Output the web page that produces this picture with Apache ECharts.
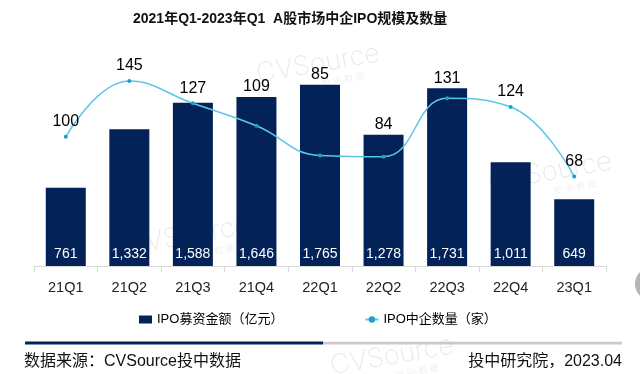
<!DOCTYPE html>
<html>
<head>
<meta charset="utf-8">
<script src="https://cdn.jsdelivr.net/npm/echarts@6/dist/echarts.min.js"></script>
<style>
html,body{margin:0;padding:0;background:#fff;}
#chart{width:640px;height:374px;}
</style>
</head>
<body>
<div id="chart"></div>
<script>
const categories = ['21Q1','21Q2','21Q3','21Q4','22Q1','22Q2','22Q3','22Q4','23Q1'];
const amount = [761, 1332, 1588, 1646, 1765, 1278, 1731, 1011, 649];
const count = [100, 145, 127, 109, 85, 84, 131, 124, 68];
const titleText = '2021年Q1-2023年Q1  A股市场中企IPO规模及数量';
const seriesNames = ['IPO募资金额（亿元）', 'IPO中企数量（家）'];
const sourceText = '数据来源：CVSource投中数据';
const creditText = '投中研究院，2023.04';

const FONT = '"Liberation Sans", Arial, "Noto Sans CJK SC", sans-serif';
const NAVY = '#022258';
const LINE = '#5cc6e8';

function watermark(cx, cy) {
  return {
    type: 'group', x: cx, y: cy, rotation: 0.17, z: -10, silent: true,
    children: [
      { type: 'text', x: 0, y: 0, style: { text: 'CVSource', font: '200 27px Inter, ' + FONT, fill: 'rgba(0,0,0,0.09)', textAlign: 'center', textVerticalAlign: 'middle' } },
      { type: 'text', x: 22, y: 20, style: { text: '投 中 数 据', font: '200 9px ' + FONT, fill: 'rgba(0,0,0,0.09)', textAlign: 'center', textVerticalAlign: 'middle' } }
    ]
  };
}

const chart = echarts.init(document.getElementById('chart'), null, { renderer: 'canvas' });
const option = {
  animation: false,
  backgroundColor: '#fff',
  textStyle: { fontFamily: FONT },
  title: {
    text: titleText, left: 128, top: 7,
    textStyle: { fontFamily: FONT, fontSize: 14, fontWeight: 'bold', color: '#111' }
  },
  legend: {
    left: 134, top: 308, itemGap: 81, itemWidth: 13, itemHeight: 8,
    textStyle: { fontFamily: FONT, fontSize: 13, color: '#000' },
    data: [
      { name: seriesNames[0], icon: 'rect' },
      { name: seriesNames[1] }
    ]
  },
  grid: { left: 34, right: 34, top: 40, bottom: 108, containLabel: false },
  xAxis: {
    type: 'category', data: categories, boundaryGap: true,
    axisLine: { lineStyle: { color: '#d9d9d9', width: 1 } },
    axisTick: { show: true, length: 6, lineStyle: { color: '#d9d9d9' } },
    axisLabel: { fontFamily: FONT, fontSize: 14.5, color: '#222', margin: 15 }
  },
  yAxis: [
    { type: 'value', min: 0, max: 2200, show: false, splitLine: { show: false } },
    { type: 'value', min: -4, max: 178, show: false, splitLine: { show: false } }
  ],
  series: [
    {
      name: seriesNames[0], type: 'bar', data: amount, barWidth: 40, yAxisIndex: 0,
      itemStyle: { color: NAVY }, z: 2,
      label: {
        show: true, position: 'insideBottom', distance: 5, color: '#fff',
        fontFamily: FONT, fontSize: 14,
        formatter: p => Number(p.value).toLocaleString('en-US')
      }
    },
    {
      name: seriesNames[1], type: 'line', data: count, yAxisIndex: 1, smooth: 0.45,
      symbol: 'circle', symbolSize: 4, z: 3,
      lineStyle: { color: LINE, width: 1.5 },
      itemStyle: { color: '#1d9fd3' },
      label: { show: true, position: 'top', distance: 5, color: '#000', fontFamily: FONT, fontSize: 16 }
    }
  ],
  graphic: [
    watermark(318, 64),
    watermark(550, 172),
    watermark(188, 236),
    watermark(392, 356),
    { type: 'rect', shape: { x: 25, y: 341.5, width: 298, height: 3 }, style: { fill: NAVY }, silent: true },
    { type: 'rect', shape: { x: 323, y: 341.8, width: 299, height: 2.6 }, style: { fill: '#c9c9c9' }, silent: true },
    { type: 'text', x: 24, y: 362, style: { text: sourceText, font: '16px ' + FONT, fill: '#111', textVerticalAlign: 'middle' }, silent: true },
    { type: 'text', x: 622, y: 362, style: { text: creditText, font: '16px ' + FONT, fill: '#111', textAlign: 'right', textVerticalAlign: 'middle' }, silent: true },
    { type: 'circle', shape: { cx: 652, cy: 284, r: 17 }, style: { fill: '#b5b5b5' }, silent: true }
  ]
};
chart.setOption(option);

// place count labels above whichever is higher: the line point or the bar top
const lineData = count.map((c, i) => {
  const py = chart.convertToPixel({ yAxisIndex: 1 }, c);
  const by = chart.convertToPixel({ yAxisIndex: 0 }, amount[i]);
  const def = py - 14;
  const target = Math.min(def, by - 9);
  return { value: c, label: { offset: [0, target - def] } };
});
chart.setOption({ series: [{}, { data: lineData }] });
</script>
</body>
</html>
